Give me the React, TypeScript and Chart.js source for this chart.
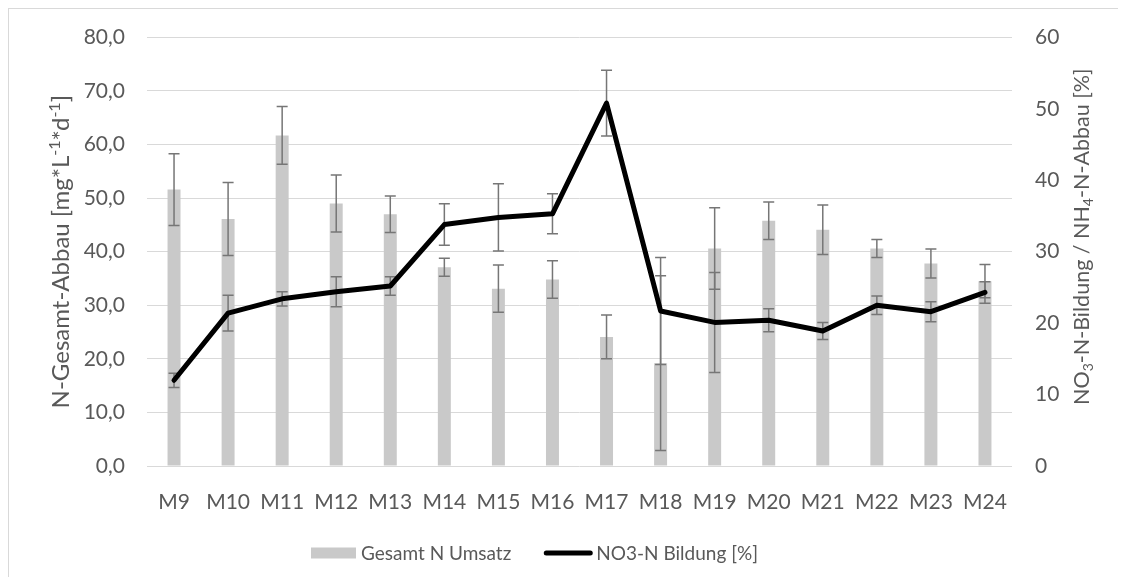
import React, { useEffect, useRef } from 'react';
import { Chart, registerables } from 'chart.js';

Chart.register(...registerables);

const categories = ['M9', 'M10', 'M11', 'M12', 'M13', 'M14', 'M15', 'M16', 'M17', 'M18', 'M19', 'M20', 'M21', 'M22', 'M23', 'M24'];
const gesamtN = [51.6, 46.1, 61.7, 49.0, 47.0, 37.1, 33.1, 34.8, 24.1, 19.2, 40.6, 45.8, 44.1, 40.6, 37.8, 34.5];
const gesamtNErr = [6.7, 6.8, 5.4, 5.3, 3.4, 1.7, 4.4, 3.5, 4.1, 16.3, 7.6, 3.5, 4.6, 1.7, 2.7, 3.1];
const no3N = [12.0, 21.4, 23.4, 24.4, 25.2, 33.8, 34.8, 35.3, 50.8, 21.7, 20.1, 20.4, 18.9, 22.5, 21.6, 24.3];
const no3NErr = [1.0, 2.5, 1.0, 2.1, 1.3, 2.9, 4.7, 2.8, 4.6, 7.5, 7.0, 1.6, 1.2, 1.3, 1.4, 1.5];
const leftTickLabels = ['0,0', '10,0', '20,0', '30,0', '40,0', '50,0', '60,0', '70,0', '80,0'];
const rightTickLabels = ['0', '10', '20', '30', '40', '50', '60'];

const barLabel = 'Gesamt N Umsatz';
const lineLabel = 'NO3-N Bildung [%]';

// rich text segments: 0 normal, 1 superscript, -1 subscript
const leftTitle: [string, number][] = [['N-Gesamt-Abbau [mg*L', 0], ['-1', 1], ['*d', 0], ['-1', 1], [']', 0]];
const rightTitle: [string, number][] = [['NO', 0], ['3', -1], ['-N-Bildung / NH', 0], ['4', -1], ['-N-Abbau [%]', 0]];

const FONT = 'Lato';
const TEXT = '#595959';
const TICK_FS = 21;
const LEGEND_FS = 19;
const LEFT_TITLE_FS = 24;
const RIGHT_TITLE_FS = 21.5;

function drawRich(ctx: CanvasRenderingContext2D, segs: [string, number][], cx: number, cy: number, size: number) {
  const small = Math.round(size * 0.65);
  const fontFor = (k: number) => `${k === 0 ? size : small}px ${FONT}`;
  let total = 0;
  for (const [t, k] of segs) {
    ctx.font = fontFor(k);
    total += ctx.measureText(t).width;
  }
  ctx.save();
  ctx.translate(cx, cy);
  ctx.rotate(-Math.PI / 2);
  ctx.fillStyle = TEXT;
  ctx.textBaseline = 'alphabetic';
  ctx.textAlign = 'left';
  let x = -total / 2;
  const base = size * 0.36;
  for (const [t, k] of segs) {
    ctx.font = fontFor(k);
    const dy = k === 1 ? -size * 0.38 : k === -1 ? size * 0.2 : 0;
    ctx.fillText(t, x, base + dy);
    x += ctx.measureText(t).width;
  }
  ctx.restore();
}

export default function App() {
  const ref = useRef<HTMLCanvasElement>(null);

  useEffect(() => {
    if (!ref.current) return;

    const errorBars = {
      id: 'errorBars',
      afterDatasetDraw(chart: any, args: any) {
        if (args.index !== 0) return;
        const ctx = chart.ctx as CanvasRenderingContext2D;
        const xs = chart.scales.x;
        const yl = chart.scales.yL;
        const yr = chart.scales.yR;
        ctx.save();
        ctx.strokeStyle = '#767676';
        ctx.lineWidth = 1.5;
        const cap = 5.5;
        const draw = (px: number, a: number, b: number) => {
          ctx.beginPath();
          ctx.moveTo(px, a);
          ctx.lineTo(px, b);
          ctx.moveTo(px - cap, a);
          ctx.lineTo(px + cap, a);
          ctx.moveTo(px - cap, b);
          ctx.lineTo(px + cap, b);
          ctx.stroke();
        };
        categories.forEach((_, i) => {
          const px = xs.getPixelForValue(i);
          draw(px, yl.getPixelForValue(gesamtN[i] + gesamtNErr[i]), yl.getPixelForValue(gesamtN[i] - gesamtNErr[i]));
          draw(px, yr.getPixelForValue(no3N[i] + no3NErr[i]), yr.getPixelForValue(no3N[i] - no3NErr[i]));
        });
        ctx.restore();
      },
    };

    const decorations = {
      id: 'decorations',
      afterDraw(chart: any) {
        const ctx = chart.ctx as CanvasRenderingContext2D;
        const area = chart.chartArea;
        const midY = (area.top + area.bottom) / 2;
        // axis titles
        drawRich(ctx, leftTitle, 51.5, midY, LEFT_TITLE_FS);
        drawRich(ctx, rightTitle, 1072, midY - 15, RIGHT_TITLE_FS);
        // legend
        ctx.save();
        ctx.font = `${LEGEND_FS}px ${FONT}`;
        ctx.textBaseline = 'middle';
        ctx.textAlign = 'left';
        const ly = 544;
        let x = 302;
        ctx.fillStyle = '#c9c9c9';
        ctx.fillRect(x, ly - 5.5, 45, 11);
        x += 50;
        ctx.fillStyle = TEXT;
        ctx.fillText(barLabel, x, ly + 1);
        x += ctx.measureText(barLabel).width + 33;
        ctx.strokeStyle = '#000000';
        ctx.lineWidth = 5;
        ctx.lineCap = 'round';
        ctx.beginPath();
        ctx.moveTo(x + 2, ly);
        ctx.lineTo(x + 46, ly);
        ctx.stroke();
        x += 52;
        ctx.fillText(lineLabel, x, ly + 1);
        ctx.restore();
      },
    };

    const noVPad = (s: any, w: number) => {
      s.width = w;
      s.paddingTop = 0;
      s.paddingBottom = 0;
    };

    const chart = new Chart(ref.current, {
      type: 'bar',
      data: {
        labels: categories,
        datasets: [
          {
            type: 'bar',
            label: barLabel,
            data: gesamtN,
            backgroundColor: '#c9c9c9',
            borderWidth: 0,
            yAxisID: 'yL',
            barPercentage: 0.24,
            categoryPercentage: 1,
            order: 1,
          },
          {
            type: 'line',
            label: lineLabel,
            data: no3N,
            borderColor: '#000000',
            backgroundColor: '#000000',
            borderWidth: 5,
            pointRadius: 0,
            pointHoverRadius: 0,
            tension: 0,
            borderCapStyle: 'round',
            borderJoinStyle: 'round',
            yAxisID: 'yR',
            order: 0,
          } as any,
        ],
      },
      options: {
        responsive: true,
        maintainAspectRatio: false,
        animation: false,
        layout: { padding: { top: 28.4, left: 0, right: 0, bottom: 0 } },
        plugins: {
          legend: { display: false },
          tooltip: { enabled: false },
        },
        scales: {
          x: {
            grid: { display: false },
            border: { display: false },
            ticks: {
              color: TEXT,
              font: { family: FONT, size: TICK_FS },
              padding: 16,
              maxRotation: 0,
              autoSkip: false,
            },
            afterFit: (s: any) => {
              s.height = 111;
            },
          },
          yL: {
            type: 'linear',
            position: 'left',
            min: 0,
            max: 80,
            grid: { color: '#d9d9d9', lineWidth: 1, drawTicks: false },
            border: { display: false },
            ticks: {
              stepSize: 10,
              color: TEXT,
              font: { family: FONT, size: TICK_FS },
              padding: 22,
              callback: (v: any) => leftTickLabels[Math.round(Number(v) / 10)],
            },
            afterFit: (s: any) => noVPad(s, 138),
          },
          yR: {
            type: 'linear',
            position: 'right',
            min: 0,
            max: 60,
            grid: { display: false, drawTicks: false },
            border: { display: false },
            ticks: {
              stepSize: 10,
              color: TEXT,
              font: { family: FONT, size: TICK_FS },
              padding: 23,
              callback: (v: any) => rightTickLabels[Math.round(Number(v) / 10)],
            },
            afterFit: (s: any) => noVPad(s, 106),
          },
        },
      } as any,
      plugins: [errorBars, decorations],
    });

    return () => chart.destroy();
  }, []);

  return (
    <div
      style={{
        boxSizing: 'border-box',
        width: 1110,
        height: 569,
        borderTop: '1px solid #d9d9d9',
        borderLeft: '1px solid #d9d9d9',
        background: '#ffffff',
      }}
    >
      <div style={{ position: 'relative', width: 1109, height: 568 }}>
        <canvas ref={ref} />
      </div>
    </div>
  );
}
